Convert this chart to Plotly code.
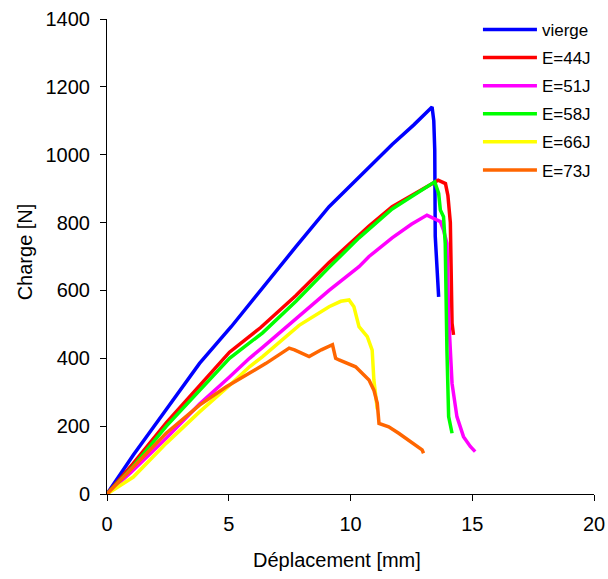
import plotly.graph_objects as go

# Déplacement [mm] / Charge [N]
vierge_x = [0, 1.08, 2.44, 3.8, 5.1, 6.3, 7.76, 9.12, 10.35, 10.76, 11.71, 12.6, 13.35, 13.42, 13.46, 13.48, 13.55, 13.62]
vierge_y = [0, 115, 250, 385, 493, 600, 729, 847, 935, 962, 1030, 1088, 1141, 1100, 1014, 760, 680, 581]

e44_x = [0, 1.08, 2.44, 3.8, 5.03, 6.3, 7.76, 9.12, 10.35, 10.76, 11.71, 12.6, 13.48, 13.6, 13.9, 14.0, 14.1, 14.17, 14.23]
e44_y = [0, 90, 210, 318, 418, 490, 585, 682, 765, 790, 847, 885, 920, 925, 915, 880, 800, 503, 469]

e51_x = [0, 1.0, 2.44, 3.8, 5.03, 5.85, 6.39, 7.89, 9.12, 10.35, 10.76, 11.71, 12.5, 13.14, 13.48, 13.69, 13.82, 13.96, 14.03, 14.17, 14.37, 14.64, 14.92, 15.12]
e51_y = [0, 65, 165, 265, 345, 400, 432, 525, 600, 670, 700, 755, 795, 822, 810, 803, 778, 739, 523, 326, 228, 169, 140, 125]

e58_x = [0, 1.08, 2.44, 3.8, 5.03, 6.39, 7.76, 9.12, 10.35, 11.71, 12.6, 13.46, 13.62, 13.69, 13.82, 13.89, 13.96, 14.03, 14.17]
e58_y = [0, 82, 200, 305, 400, 475, 568, 668, 755, 840, 880, 920, 886, 837, 817, 739, 424, 228, 179]

e66_x = [0, 1.08, 2.44, 3.8, 5.03, 5.85, 6.39, 7.89, 9.12, 9.6, 9.94, 10.14, 10.35, 10.69, 10.89, 10.96, 11.1]
e66_y = [0, 50, 150, 242, 320, 375, 405, 497, 552, 568, 572, 552, 493, 464, 424, 336, 250]

e73_x = [0, 1.08, 2.44, 3.8, 4.9, 6.53, 7.48, 7.7, 8.3, 8.8, 9.26, 9.39, 9.53, 10.21, 10.48, 10.76, 10.96, 11.1, 11.17, 11.57, 11.98, 12.39, 12.94, 13.0]
e73_y = [0, 80, 180, 262, 316, 385, 430, 425, 405, 425, 440, 400, 395, 375, 356, 336, 306, 267, 208, 198, 179, 159, 130, 120]

series = [
    ("vierge", vierge_x, vierge_y, "#0000ff"),
    ("E=44J", e44_x, e44_y, "#ff0000"),
    ("E=51J", e51_x, e51_y, "#ff00ff"),
    ("E=58J", e58_x, e58_y, "#00ff00"),
    ("E=66J", e66_x, e66_y, "#ffff00"),
    ("E=73J", e73_x, e73_y, "#ff6600"),
]

FONT = "Liberation Sans, Arial, sans-serif"

fig = go.Figure()
for name, xs, ys, color in series:
    fig.add_trace(go.Scatter(
        x=xs, y=ys, mode="lines", name=name,
        legendgroup=name,
        line=dict(color=color, width=3.5),
    ))

axis_common = dict(
    showline=True, linecolor="black", linewidth=1,
    ticks="outside", ticklen=6, tickcolor="black", tickwidth=1,
    showgrid=False, zeroline=False, automargin=False,
    tickfont=dict(family=FONT, size=20, color="black"),
)

L, R, T, B = 107, 12, 19, 85
W, H = 608, 579
pw, ph = W - L - R, H - T - B

fig.update_layout(
    width=W, height=H,
    margin=dict(l=L, r=R, t=T, b=B),
    paper_bgcolor="white", plot_bgcolor="white",
    font=dict(family=FONT, color="black"),
    xaxis=dict(range=[0, 20], tickvals=[0, 5, 10, 15, 20], ticklabelstandoff=6, **axis_common),
    yaxis=dict(range=[0, 1400], tickvals=list(range(0, 1401, 200)), ticklabelstandoff=6, **axis_common),
    showlegend=True,
    legend=dict(
        x=1.004, y=1.015, xanchor="right", yanchor="top",
        font=dict(family=FONT, size=17, color="black"),
        bgcolor="rgba(0,0,0,0)", itemwidth=54, tracegroupgap=3,
    ),
    annotations=[
        dict(text="Déplacement [mm]", x=(338 - L) / pw, y=(494 - 560) / ph,
             xanchor="center", yanchor="middle",
             xref="paper", yref="paper", showarrow=False, font=dict(size=20)),
        dict(text="Charge [N]", x=(25 - L) / pw, y=(494 - 252) / ph,
             xanchor="center", yanchor="middle",
             xref="paper", yref="paper", showarrow=False, textangle=-90, font=dict(size=20)),
    ],
)

fig.write_html("out.html", config={"displayModeBar": False},
               post_script="document.body.style.margin='0px';")
